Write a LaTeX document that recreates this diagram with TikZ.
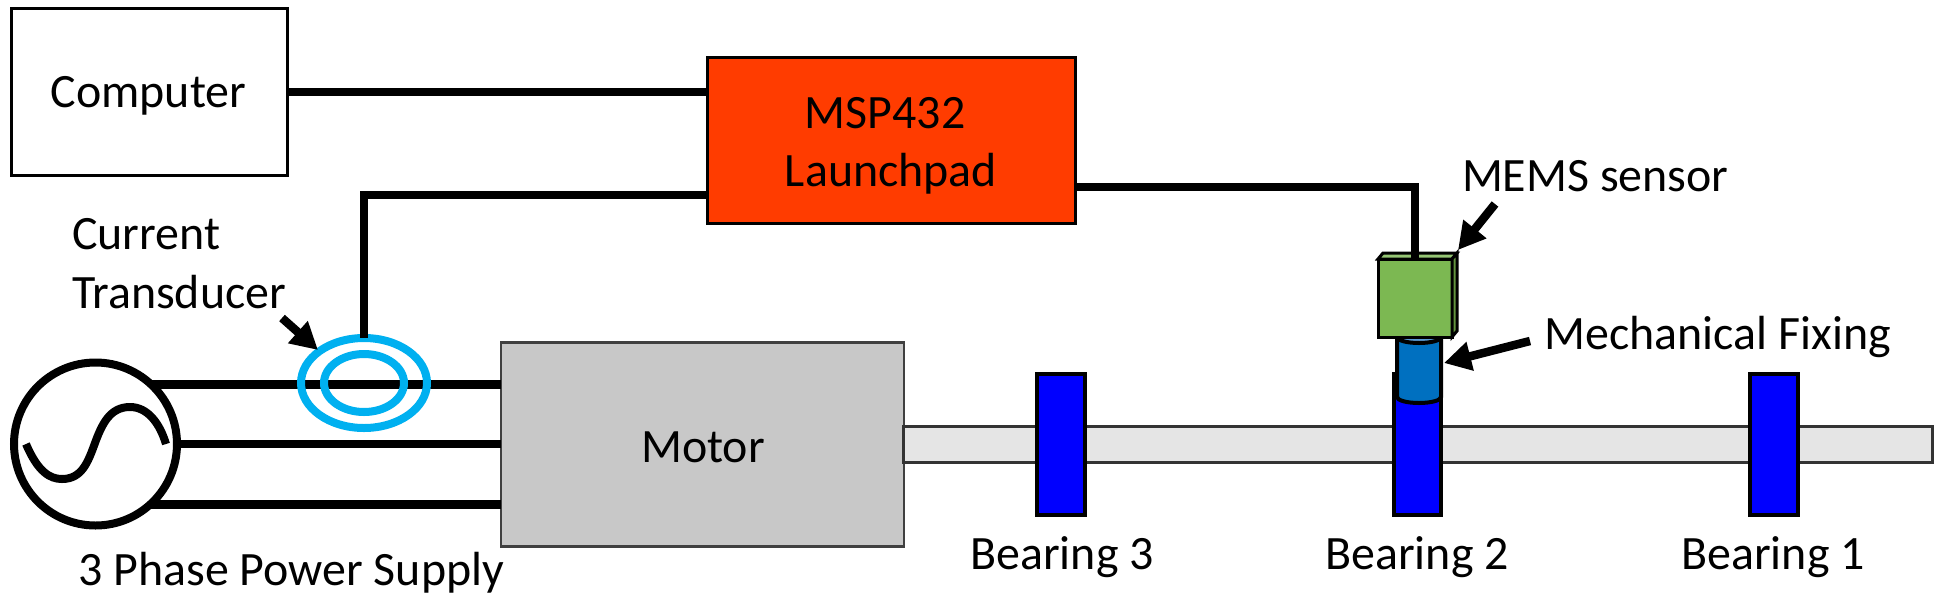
\documentclass[tikz,border=0pt]{standalone}
\usepackage{fontspec}
\setmainfont{Carlito}
\usepackage{tikz}
\usetikzlibrary{arrows.meta,shapes.geometric}
\definecolor{launchpadred}{HTML}{FF3C00}
\definecolor{motorgray}{HTML}{C8C8C8}
\definecolor{shaftgray}{HTML}{E5E5E5}
\definecolor{ringblue}{HTML}{00B0F0}
\definecolor{bearingblue}{HTML}{0000FF}
\definecolor{fixingblue}{HTML}{0070C0}
\definecolor{fixingtop}{HTML}{5B9BD5}
\definecolor{sensorgreen}{HTML}{7CB852}
\definecolor{sensorside}{HTML}{64953F}
\definecolor{sensortop}{HTML}{95C574}
\tikzset{
  every node/.style={font=\fontsize{47.9}{58}\selectfont, inner sep=0pt, outer sep=0pt},
  wire/.style={line width=8.5pt},
  pointer/.style={line width=8.5pt, -{Triangle[length=27pt,width=28pt]}},
  ring/.style={draw=ringblue, line width=8pt, ellipse},
  bearingbox/.style={draw, line width=4pt, fill=bearingblue, minimum width=47.5pt, minimum height=141pt},
  label/.style={anchor=base}
}
\begin{document}
\begin{tikzpicture}[x=1pt,y=-1pt]
\useasboundingbox (0,0) rectangle (1943,603);

\node[draw, line width=3pt, minimum width=276pt, minimum height=167pt]                    (computer)  at (149,92)    {};
\node[draw, line width=3pt, fill=launchpadred, minimum width=368pt, minimum height=166pt] (launchpad) at (891,140.5) {};
\node[draw, line width=8pt, circle, minimum size=163pt]                                   (supply)    at (95.5,444)  {};
\node[draw=black!75, line width=2.5pt, fill=motorgray, minimum width=403pt, minimum height=204pt] (motor) at (702.5,444.5) {};
\node[draw=black!80, line width=2.5pt, fill=shaftgray, minimum width=1029pt, minimum height=36pt] (shaft) at (1418,444.5) {};

\node[label] (computerText)  at (148.5,107) {Computer};
\node[label] (launchOneText) at (885,128) {MSP432};
\node[label] (launchTwoText) at (891,186) {Launchpad};
\node[label] (motorText)     at (703,462) {Motor};

\node[bearingbox] (bearingThree) at (1061,444.5) {};
\node[bearingbox] (bearingTwo)   at (1417.5,444.5) {};
\node[bearingbox] (bearingOne)   at (1774,444.5) {};
\node[label]      (bearingThreeText) at (1062,569) {Bearing 3};
\node[label]      (bearingTwoText)   at (1417,569) {Bearing 2};
\node[label]      (bearingOneText)   at (1773,569) {Bearing 1};

\coordinate (launchpadInTwo) at (706,195);
\coordinate (launchpadOut)   at (1076,187);

\draw[wire] (supply.47)  -- (supply.47 -| motor.west);
\draw[wire] (supply.0)   -- (supply.0 -| motor.west);
\draw[wire] (supply.-48) -- (supply.-48 -| motor.west);
\draw[line width=8pt] (26,444) .. controls (38,472) and (50,479) .. (62,479) .. controls (82,479) and (88,462) .. (95,443) .. controls (102,424) and (110,407) .. (130,407) .. controls (148,407) and (160,424) .. (166,444);

\node[ring, minimum width=126pt, minimum height=90pt] (ringOuter) at (364,383) {};
\node[ring, minimum width=80pt,  minimum height=58pt] (ringInner) at (364,383) {};

\draw[wire] (computer.east) -- (computer.east -| launchpad.west);
\draw[wire] (launchpadInTwo) -| (ringOuter.north);

\fill[fixingblue] (1397,337) -- (1397,397) arc[start angle=180,end angle=360,x radius=22,y radius=-6] -- (1441,337) -- cycle;
\draw[line width=4pt] (1397,337) -- (1397,397) arc[start angle=180,end angle=360,x radius=22,y radius=-6] -- (1441,337);
\draw[line width=4pt, fill=fixingtop] (1419,337) ellipse[x radius=22,y radius=6];

\node[draw, line width=3pt, fill=sensorgreen, minimum width=74pt, minimum height=78pt] (sensor) at (1415,298) {};
\draw[line width=3pt, fill=sensortop]  (sensor.north west) -- ++(5,-6) -- ++(74,0) -- (sensor.north east) -- cycle;
\draw[line width=3pt, fill=sensorside] (sensor.north east) -- ++(5,-6) -- ++(0,78) -- (sensor.south east) -- cycle;
\draw[wire] (launchpadOut) -| (sensor.north);

\node[anchor=base west] (currentText) at (72,249)   {Current};
\node[anchor=base west] (transText)   at (72,308)   {Transducer};
\node[anchor=base west] (supplyText)  at (78.5,585) {3 Phase Power Supply};
\node[anchor=base west] (sensorText)  at (1462,191) {MEMS sensor};
\node[anchor=base west] (fixingText)  at (1544.5,349) {Mechanical Fixing};

\coordinate (ringArrowFrom)   at (282,318);
\coordinate (ringArrowTo)     at (318,350);
\coordinate (sensorArrowFrom) at (1495,204);
\coordinate (sensorArrowTo)   at (1458,250);
\coordinate (fixingArrowFrom) at (1530,341);
\coordinate (fixingArrowTo)   at (1444,363);
\draw[pointer] (ringArrowFrom)   -- (ringArrowTo);
\draw[pointer] (sensorArrowFrom) -- (sensorArrowTo);
\draw[pointer] (fixingArrowFrom) -- (fixingArrowTo);
\end{tikzpicture}
\end{document}
